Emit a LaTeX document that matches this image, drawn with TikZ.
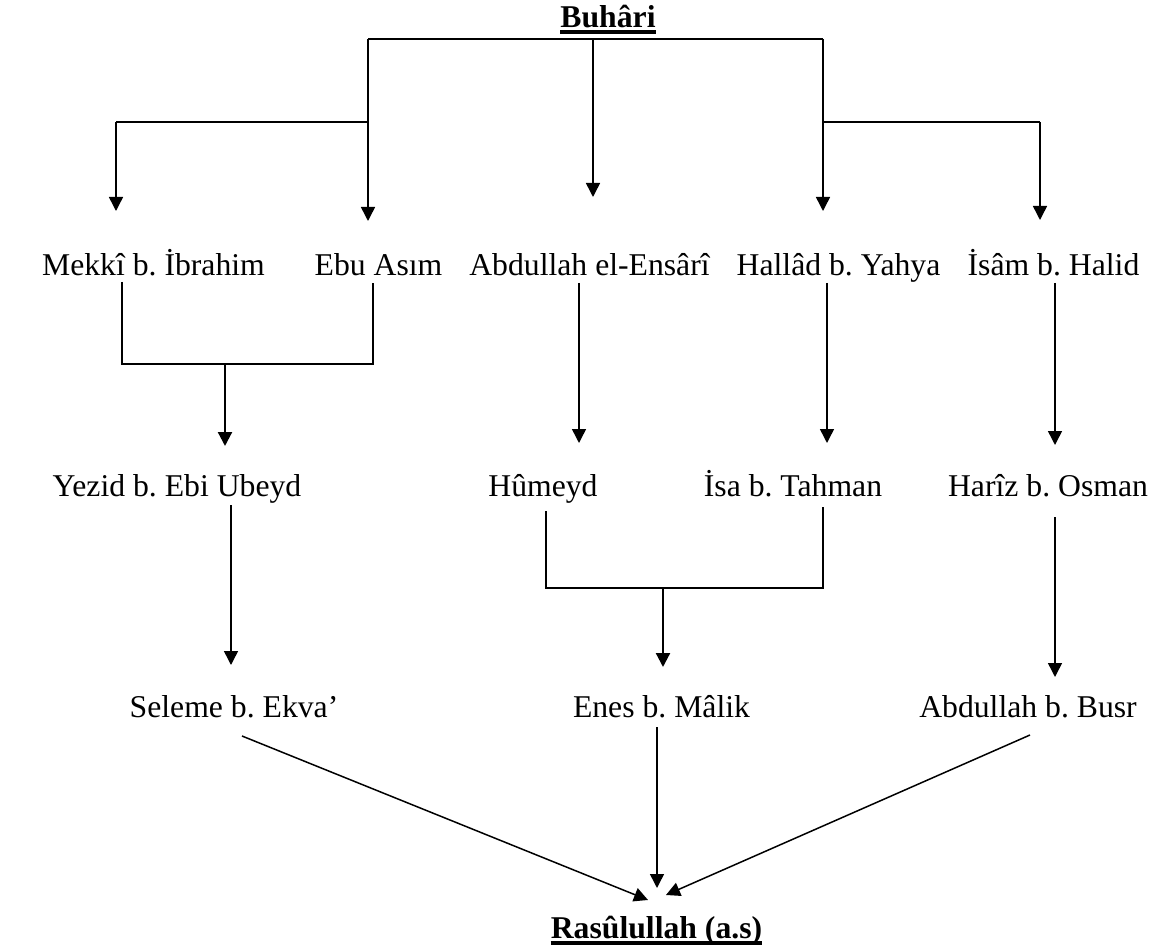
\documentclass[tikz,border=0pt]{standalone}
\usepackage{fontspec}
\setmainfont{Liberation Serif}
\usetikzlibrary{arrows.meta}
\frenchspacing

\tikzset{
  isim/.style={inner sep=0pt, anchor=base, font=\fontsize{31.7}{38}\selectfont},
  hat/.style={line width=1.5pt},
  ok/.style={hat, -{Triangle[length=14pt,width=14pt]}},
  kalin/.style={ok, line width=2.2pt},
  alti/.style={line width=4pt},
}

\begin{document}
\begin{tikzpicture}[x=1pt,y=-1pt]
\useasboundingbox (0,0) rectangle (1163,952);

% names
\node[isim] (buh) at (608,28) {\textbf{Buhâri}};
\node[isim] (mek) at (153.5,276) {Mekkî b. İbrahim};
\node[isim] (ebu) at (378.5,276) {Ebu Asım};
\node[isim] (abd) at (589.5,276) {Abdullah el-Ensârî};
\node[isim] (hal) at (838.5,276) {Hallâd b. Yahya};
\node[isim] (isam) at (1053.5,276) {İsâm b. Halid};
\node[isim] (yez) at (177,496) {Yezid b. Ebi Ubeyd};
\node[isim] (hum) at (543,496) {Hûmeyd};
\node[isim] (isa) at (793,496) {İsa b. Tahman};
\node[isim] (har) at (1048,496) {Harîz b. Osman};
\node[isim] (sel) at (234,717) {Seleme b. Ekva’};
\node[isim] (enes) at (661.5,717) {Enes b. Mâlik};
\node[isim] (busr) at (1028,717) {Abdullah b. Busr};
\node[isim] (ras) at (656.5,938) {\textbf{Rasûlullah (a.s)}};

\draw[alti] ([yshift=-4.5pt]buh.base west) -- ([yshift=-4.5pt]buh.base east);
\draw[alti] ([yshift=-5pt]ras.base west) -- ([yshift=-5pt]ras.base east);

% fork under Buhari
\coordinate (f0) at (593,39);
\coordinate (fL) at (368,39);
\coordinate (fR) at (823,39);
\coordinate (gL) at (368,122);
\coordinate (gR) at (823,122);
\coordinate (gLL) at (116,122);
\coordinate (gRR) at (1040,122);
\coordinate (t1) at (116,211);
\coordinate (t2) at (368,221);
\coordinate (t3) at (593,197);
\coordinate (t4) at (823,211);
\coordinate (t5) at (1040,220);

\draw[hat] (fL) -- (fR);
\draw[hat] (fL) -- (gL) -- (gLL);
\draw[hat] (fR) -- (gR) -- (gRR);
\foreach \a/\b in {gLL/t1, gL/t2, f0/t3, gR/t4, gRR/t5}
  \draw[ok] (\a) -- (\b);

% first row down
\coordinate (m1) at (122,282);
\coordinate (m2) at (122,364);
\coordinate (e1) at (373,283);
\coordinate (e2) at (373,364);
\coordinate (y0) at (225,364);
\coordinate (y1) at (225,446);
\draw[hat] (m1) -- (m2) -- (e2) -- (e1);
\draw[kalin] (y0) -- (y1);

\coordinate (a1) at (579,283);
\coordinate (a2) at (579,443);
\coordinate (h1) at (827,283);
\coordinate (h2) at (827,443);
\coordinate (i1) at (1055,283);
\coordinate (i2) at (1055,445);
\foreach \a/\b in {a1/a2, h1/h2, i1/i2}
  \draw[ok] (\a) -- (\b);

% second row down
\coordinate (yz1) at (231,505);
\coordinate (yz2) at (231,665);
\coordinate (hm1) at (546,511);
\coordinate (hm2) at (546,588);
\coordinate (is1) at (823,507);
\coordinate (is2) at (823,588);
\coordinate (en0) at (663,588);
\coordinate (en1) at (663,667);
\coordinate (hr1) at (1055,517);
\coordinate (hr2) at (1055,677);
\draw[hat] (hm1) -- (hm2) -- (is2) -- (is1);
\draw[kalin] (en0) -- (en1);
\foreach \a/\b in {yz1/yz2, hr1/hr2}
  \draw[ok] (\a) -- (\b);

% to Rasulullah
\coordinate (s1) at (242,736);
\coordinate (s2) at (648,900);
\coordinate (n1) at (657,727);
\coordinate (n2) at (657,888);
\coordinate (b1) at (1030,735);
\coordinate (b2) at (666,895);
\foreach \a/\b in {s1/s2, n1/n2, b1/b2}
  \draw[ok] (\a) -- (\b);

\end{tikzpicture}
\end{document}
